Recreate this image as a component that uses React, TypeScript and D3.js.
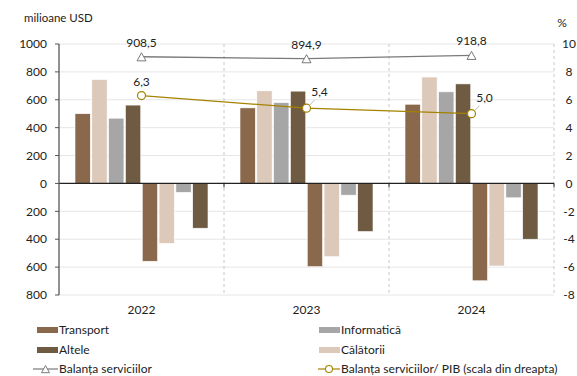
import React from "react";
import * as d3 from "d3";

const years = ["2022", "2023", "2024"];
const categories = ["Transport", "Călătorii", "Informatică", "Altele"];
const exportsT = [500, 542, 568];
const exportsC = [745, 664, 763];
const exportsI = [468, 580, 657];
const exportsA = [562, 662, 714];
const importsT = [-558, -597, -698];
const importsC = [-430, -525, -592];
const importsI = [-64, -84, -103];
const importsA = [-321, -345, -400];
const balanta = [908.5, 894.9, 918.8];
const balantaPib = [6.3, 5.4, 5.0];
const leftTicks = [-800, -600, -400, -200, 0, 200, 400, 600, 800, 1000];
const rightTicks = [-8, -6, -4, -2, 0, 2, 4, 6, 8, 10];

const colors: Record<string, string> = {
  Transport: "#8a684c",
  "Călătorii": "#dcc9b9",
  "Informatică": "#a6a6a6",
  Altele: "#6e5b41",
};
const lineGray = "#7a7a7a";
const lineGold = "#a58200";

const W = 577, H = 376;
const L = 59, R = 554, T = 44, B = 295;
const font = "Lato, 'Noto Sans', sans-serif";

export default function App() {
  const y = d3.scaleLinear().domain([-800, 1000]).range([B, T]);
  const yR = d3.scaleLinear().domain([-8, 10]).range([B, T]);
  const x0 = d3.scaleBand<string>().domain(years).range([L, R]).padding(0);
  const slots = d3.range(8).map(String);
  const x1 = d3.scaleBand<string>().domain(slots).range([16, x0.bandwidth() - 16]).paddingInner(0.09);

  const series = [exportsT, exportsC, exportsI, exportsA, importsT, importsC, importsI, importsA];
  const cats = [...categories, ...categories];

  const fmt = (v: number) => v.toFixed(1).replace(".", ",");
  const cx = (i: number) => (x0(years[i]) as number) + x0.bandwidth() / 2;

  const lineB = d3.line<number>().x((_, i) => cx(i)).y((v) => y(v));
  const lineP = d3.line<number>().x((_, i) => cx(i)).y((v) => yR(v));

  const tri = (px: number, py: number, s = 5) =>
    `M${px},${py - s} L${px + s},${py + s * 0.8} L${px - s},${py + s * 0.8} Z`;

  return (
    <svg width={W} height={H} style={{ position: "absolute", left: 0, top: 0 }} fontFamily={font}>
      <rect width={W} height={H} fill="#fff" />
      {leftTicks.filter((t) => t !== 0).map((t) => (
        <line key={t} x1={L} x2={R} y1={y(t)} y2={y(t)} stroke="#e6e6e6" strokeWidth={1} />
      ))}
      {[x0("2023") as number, x0("2024") as number, R].map((vx, i) => (
        <line key={i} x1={vx} x2={vx} y1={T} y2={B} stroke="#c8c8c8" strokeDasharray="3,3" strokeWidth={1} />
      ))}
      {years.map((yr, yi) =>
        series.map((s, si) => {
          const v = s[yi];
          const bx = (x0(yr) as number) + (x1(String(si)) as number);
          return (
            <rect
              key={yr + si}
              x={bx}
              y={Math.min(y(v), y(0))}
              width={x1.bandwidth()}
              height={Math.abs(y(v) - y(0))}
              fill={colors[cats[si]]}
              stroke="#fff"
              strokeWidth={0.6}
            />
          );
        })
      )}
      <line x1={L} x2={R} y1={y(0)} y2={y(0)} stroke="#222" strokeWidth={1.3} />
      {[x0("2023") as number, x0("2024") as number, R].map((vx, i) => (
        <line key={"zt" + i} x1={vx} x2={vx} y1={y(0)} y2={y(0) + 4} stroke="#222" strokeWidth={1} />
      ))}
      <line x1={L} x2={L} y1={T} y2={B} stroke="#555" strokeWidth={1.3} />
      {leftTicks.map((t) => (
        <g key={t}>
          <line x1={L - 4} x2={L} y1={y(t)} y2={y(t)} stroke="#555" strokeWidth={1} />
          <text x={L - 12} y={y(t)} dy="0.35em" textAnchor="end" fontSize={12} fill="#222">
            {Math.abs(t)}
          </text>
        </g>
      ))}
      <text x={24} y={22} fontSize={11.5} fill="#222">milioane USD</text>
      {rightTicks.map((t) => (
        <text key={t} x={569} y={yR(t)} dy="0.35em" textAnchor="middle" fontSize={12} fill="#222">
          {t}
        </text>
      ))}
      <text x={562} y={27} textAnchor="middle" fontSize={12} fill="#222">%</text>
      {years.map((yr) => (
        <text key={yr} x={(x0(yr) as number) + x0.bandwidth() / 2} y={314} textAnchor="middle" fontSize={12} fill="#222">
          {yr}
        </text>
      ))}
      <path d={lineB(balanta) || ""} fill="none" stroke={lineGray} strokeWidth={1.3} />
      {balanta.map((v, i) => (
        <g key={"b" + i}>
          <path d={tri(cx(i), y(v) + 0.5, 4.5)} fill="#fff" stroke={lineGray} strokeWidth={1} />
          <text x={cx(i)} y={y(v) - 10} textAnchor="middle" fontSize={12} fill="#222">{fmt(v)}</text>
        </g>
      ))}
      <path d={lineP(balantaPib) || ""} fill="none" stroke={lineGold} strokeWidth={1.3} />
      {balantaPib.map((v, i) => {
        const px = cx(i), py = yR(v);
        if (i === 0) {
          return (
            <g key={"p" + i}>
              <circle cx={px} cy={py} r={4} fill="#fff" stroke={lineGold} strokeWidth={1.2} />
              <text x={px} y={py - 10} textAnchor="middle" fontSize={12} fill="#222">{fmt(v)}</text>
            </g>
          );
        }
        const lx = px + 13, ly = py - 16;
        return (
          <g key={"p" + i}>
            <line x1={px} y1={py} x2={px + 8} y2={py - 8} stroke="#bbb" strokeWidth={1} />
            <circle cx={px} cy={py} r={4} fill="#fff" stroke={lineGold} strokeWidth={1.2} />
            <text x={lx} y={ly} dy="0.35em" textAnchor="middle" fontSize={12} fill="#222">{fmt(v)}</text>
          </g>
        );
      })}
      {[
        { label: "Transport", x: 37, y: 330, c: colors["Transport"] },
        { label: "Altele", x: 37, y: 350, c: colors["Altele"] },
        { label: "Informatică", x: 319, y: 330, c: colors["Informatică"] },
        { label: "Călătorii", x: 319, y: 350, c: colors["Călătorii"] },
      ].map((d) => (
        <g key={d.label}>
          <rect x={d.x} y={d.y - 3} width={21} height={6} fill={d.c} />
          <text x={d.x + 22} y={d.y} dy="0.35em" fontSize={12} fill="#222">{d.label}</text>
        </g>
      ))}
      <g>
        <line x1={33} x2={58} y1={369} y2={369} stroke={lineGray} strokeWidth={1.2} />
        <path d={tri(45.5, 369.5, 4)} fill="#fff" stroke={lineGray} strokeWidth={1} />
        <text x={59} y={369} dy="0.35em" fontSize={12} fill="#222">Balanța serviciilor</text>
      </g>
      <g>
        <line x1={318} x2={340} y1={369} y2={369} stroke={lineGold} strokeWidth={1.2} />
        <circle cx={329} cy={369} r={3.5} fill="#fff" stroke={lineGold} strokeWidth={1.1} />
        <text x={341} y={369} dy="0.35em" fontSize={12} fill="#222">Balanța serviciilor/ PIB (scala din dreapta)</text>
      </g>
    </svg>
  );
}
